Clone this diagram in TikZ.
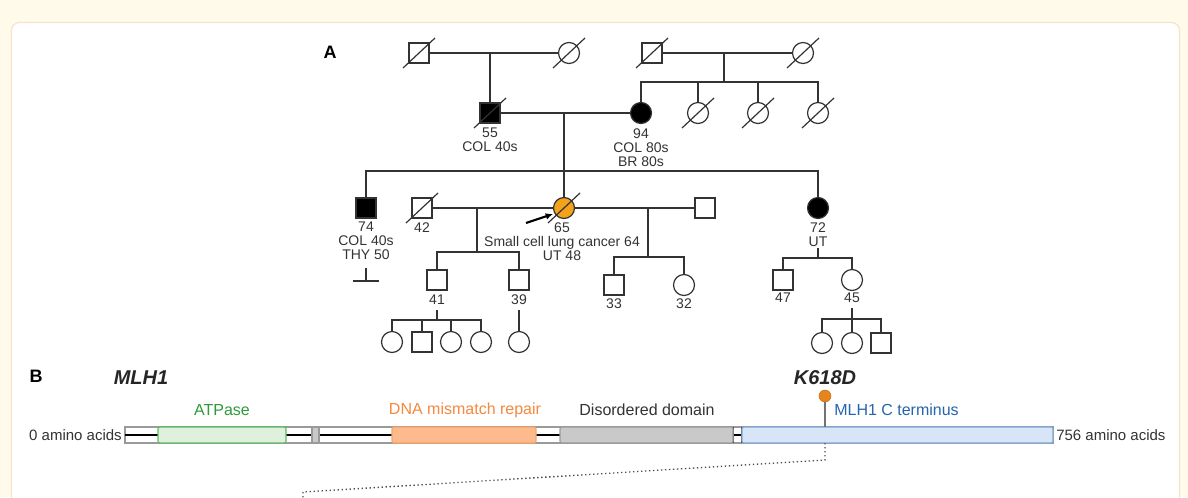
\documentclass[tikz,border=0pt]{standalone}
\usepackage{fontspec}
\setmainfont{Liberation Sans}
\usetikzlibrary{arrows.meta}
\definecolor{cream}{HTML}{FFFAEA}
\definecolor{panelborder}{HTML}{F8E2CC}
\definecolor{ink}{HTML}{333333}
\definecolor{proband}{HTML}{F5A21B}
\definecolor{atpfill}{HTML}{DFF1DC}
\definecolor{atpdraw}{HTML}{5DBB63}
\definecolor{atptext}{HTML}{2F9A3A}
\definecolor{dnafill}{HTML}{FDBA8C}
\definecolor{dnadraw}{HTML}{F7A46C}
\definecolor{dnatext}{HTML}{F5893F}
\definecolor{disfill}{HTML}{C9C9C9}
\definecolor{disdraw}{HTML}{9A9A9A}
\definecolor{ctfill}{HTML}{D7E5F6}
\definecolor{ctdraw}{HTML}{7FA8D8}
\definecolor{cttext}{HTML}{2764AE}
\definecolor{mutdot}{HTML}{E8841E}
\tikzset{
  pline/.style={draw=ink, line width=0.9pt},
  male/.style={shape=rectangle, draw=ink, line width=0.9pt, fill=white, minimum size=15pt, inner sep=0pt},
  female/.style={shape=circle, draw=ink, line width=0.9pt, fill=white, minimum size=15.75pt, inner sep=0pt},
  aff/.style={fill=black},
  plabel/.style={anchor=north, inner sep=0pt, align=center, text=ink, font=\fontsize{10.5pt}{10.5pt}\selectfont},
  panel/.style={font=\fontsize{13.5pt}{14pt}\selectfont\bfseries, text=black, inner sep=0pt},
  gene/.style={font=\fontsize{15pt}{16pt}\selectfont\bfseries\itshape, text=black!85, inner sep=0pt},
  aalabel/.style={font=\fontsize{11.25pt}{12pt}\selectfont, text=ink, inner sep=0pt},
  domlabel/.style={font=\fontsize{12pt}{13pt}\selectfont, inner sep=0pt},
  dombox/.style={rounded corners=1.5pt, line width=0.8pt},
}
\newcommand\deadmark[1]{\draw[pline] ([shift={(-16,15)}]#1.center) -- ([shift={(16,-15)}]#1.center);}
\begin{document}
\begin{tikzpicture}[x=0.75pt,y=-0.75pt]
\useasboundingbox (0,0) rectangle (1188,497);
\fill[cream] (0,0) rectangle (1188,497);
\draw[panelborder, line width=0.9pt, fill=white, rounded corners=6pt] (11.5,22.5) rectangle (1179.5,520);

\node[panel] (A) at (330,52) {A};

% Generation I
\node[male] (I1) at (419,53) {};
\node[female] (I2) at (569,53) {};
\node[male] (I3) at (652,53) {};
\node[female] (I4) at (803,53) {};
% Generation II
\node[male, aff] (II1) at (490,113) {};
\node[female, aff] (II2) at (641,113) {};
\node[female] (II3) at (698,113) {};
\node[female] (II4) at (758,113) {};
\node[female] (II5) at (818,113) {};
% Generation III
\node[male, aff] (III1) at (366,208) {};
\node[male] (III2) at (422,208) {};
\node[female, fill=proband] (III3) at (564,208) {};
\node[male] (III4) at (705,208) {};
\node[female, aff] (III5) at (818,208) {};
% Generation IV
\node[male] (IV1) at (437,280) {};
\node[male] (IV2) at (519,280) {};
\node[male] (IV3) at (614,285) {};
\node[female] (IV4) at (684,285) {};
\node[male] (IV5) at (783,280) {};
\node[female] (IV6) at (852,280) {};
% Generation V
\node[female] (V1) at (392,342) {};
\node[male] (V2) at (422,342) {};
\node[female] (V3) at (451,342) {};
\node[female] (V4) at (481,342) {};
\node[female] (V5) at (519,342) {};
\node[female] (V6) at (822,343) {};
\node[female] (V7) at (852,343) {};
\node[male] (V8) at (881,343) {};

% deceased marks
\deadmark{I1}\deadmark{I2}\deadmark{I3}\deadmark{I4}
\deadmark{II1}\deadmark{II3}\deadmark{II4}\deadmark{II5}
\deadmark{III2}\deadmark{III3}

% labels
\node[plabel] (lII1) at (490,128) {55\\COL 40s};
\node[plabel] (lII2) at (641,128) {94\\COL 80s\\BR 80s};
\node[plabel] (lIII1) at (366,222) {74\\COL 40s\\THY 50};
\node[plabel] (lIII2) at (422,222) {42};
\node[plabel] (lIII3) at (562,222) {65\\Small cell lung cancer 64\\UT 48};
\node[plabel] (lIII5) at (818,222) {72\\UT};
\node[plabel] (lIV1) at (437,295) {41};
\node[plabel] (lIV2) at (519,294) {39};
\node[plabel] (lIV3) at (614,298) {33};
\node[plabel] (lIV4) at (684,298) {32};
\node[plabel] (lIV5) at (783,293) {47};
\node[plabel] (lIV6) at (852,293) {45};

% Generation I couples
\draw[pline] (I1.east) -- (I2.west);
\draw[pline] (I3.east) -- (I4.west);
\coordinate (m1) at (490,53);
\draw[pline] (m1) -- (II1.north);
\coordinate (m2) at (724,53);
\coordinate (s2) at (724,82);
\draw[pline] (m2) -- (s2);
\draw[pline] (II2.north) |- (s2) -| (II5.north);
\draw[pline] (II3.north) -- (II3.north |- s2);
\draw[pline] (II4.north) -- (II4.north |- s2);

% Generation II couple
\draw[pline] (II1.east) -- (II2.west);
\coordinate (m3) at (564,113);
\coordinate (s3) at (564,171);
\draw[pline] (m3) -- (III3.north);
\draw[pline] (III1.north) |- (s3) -| (III5.north);
% no offspring mark
\coordinate (n1) at (366,268);
\coordinate (n2) at (366,281);
\draw[pline] (n1) -- (n2);
\draw[pline] ([xshift=-13*0.75pt]n2) -- ([xshift=13*0.75pt]n2);

% Generation III couples
\draw[pline] (III2.east) -- (III3.west);
\coordinate (m4) at (477,208);
\coordinate (s4) at (477,252);
\draw[pline] (m4) -- (s4);
\draw[pline] (IV1.north) |- (s4) -| (IV2.north);
\draw[pline] (III3.east) -- (III4.west);
\coordinate (m5) at (648,208);
\coordinate (s5) at (648,257);
\draw[pline] (m5) -- (s5);
\draw[pline] (IV3.north) |- (s5) -| (IV4.north);
\coordinate (d5) at (818,248);
\coordinate (s6) at (818,258);
\draw[pline] (d5) -- (s6);
\draw[pline] (IV5.north) |- (s6) -| (IV6.north);

% Generation IV offspring
\coordinate (d1) at (437,310);
\coordinate (s7) at (437,320);
\draw[pline] (d1) -- (s7);
\draw[pline] (V1.north) |- (s7) -| (V4.north);
\draw[pline] (V2.north) -- (V2.north |- s7);
\draw[pline] (V3.north) -- (V3.north |- s7);
\coordinate (d2) at (519,310);
\draw[pline] (d2) -- (V5.north);
\coordinate (d3) at (852,308);
\coordinate (s8) at (852,319);
\draw[pline] (d3) -- (V7.north);
\draw[pline] (V6.north) |- (s8) -| (V8.north);

% proband arrow
\coordinate (pa) at (526,223);
\coordinate (pb) at (553,214);
\draw[black, line width=1.6pt, -{Latex[length=5.5pt,width=5pt]}] (pa) -- (pb);

% ---------------- Part B ----------------
\node[panel] (B) at (36,376) {B};
\node[gene] (gene) at (141,378) {MLH1};
\node[aalabel, anchor=east] (aa0) at (122,435) {0 amino acids};
\node[aalabel, anchor=west] (aa1) at (1056,435) {756 amino acids};

% backbone
\draw[disdraw, line width=0.8pt, fill=white] (125,427) rectangle (1053,443);
\draw[black, line width=1.3pt] (125,435) -- (1053,435);
% small separators
\draw[disdraw, line width=0.8pt, fill=disfill] (312,427) rectangle (319,443);
\draw[black!70, line width=0.8pt] (733,427) -- (733,443);
\draw[black!70, line width=0.8pt] (742,427) -- (742,443);
% domains
\draw[dombox, draw=atpdraw, fill=atpfill] (158,427) rectangle (286,443);
\draw[dombox, draw=dnadraw, fill=dnafill] (392,427) rectangle (536,443);
\draw[dombox, draw=disdraw, fill=disfill] (560,427) rectangle (733,443);
\draw[dombox, draw=ctdraw, fill=ctfill] (742,427) rectangle (1053,443);

\node[domlabel, text=atptext] (latp) at (222,410) {ATPase};
\node[domlabel, text=dnatext] (ldna) at (465,410) {DNA mismatch repair};
\node[domlabel, text=ink] (ldis) at (647,410) {Disordered domain};
\node[domlabel, text=cttext, anchor=west] (lct) at (834,410) {MLH1 C terminus};

% mutation
\node[gene] (mut) at (825,378) {K618D};
\node[circle, fill=mutdot, draw=mutdot!85!black, line width=0.4pt, minimum size=9pt, inner sep=0pt] (dot) at (825,396) {};
\coordinate (bartop) at (825,427);
\coordinate (barbot) at (825,443);
\draw[black!55, line width=0.8pt] (dot.south) -- (bartop);
\coordinate (z1) at (825,460);
\coordinate (z2) at (303,492);
\coordinate (z3) at (303,500);
\draw[black!70, line width=1pt, dotted] (barbot) -- (z1) -- (z2) -- (z3);
\end{tikzpicture}
\end{document}
